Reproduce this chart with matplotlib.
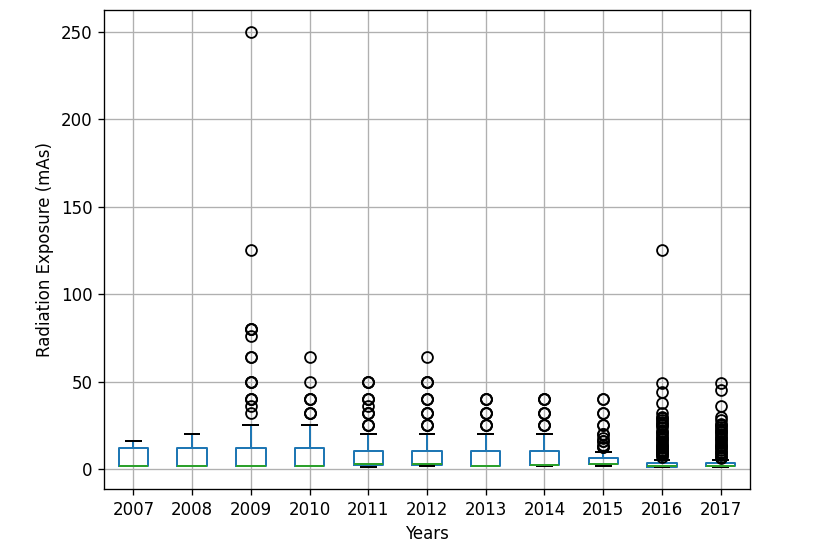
import matplotlib
matplotlib.use("Agg")
import matplotlib.pyplot as plt

years = ["2007", "2008", "2009", "2010", "2011", "2012", "2013", "2014", "2015", "2016", "2017"]
q1 = [2, 2, 2, 2, 2.5, 2.5, 2, 2.5, 3, 1.25, 1.5]
medians = [2, 2, 2, 2, 3, 3, 2, 2.5, 3, 2, 2]
q3 = [12, 12, 12, 12, 10.5, 10.5, 10.5, 10.5, 6.3, 3.2, 3.2]
whislo = [2, 2, 2, 2, 1.25, 2, 2, 2, 2, 1, 1.25]
whishi = [16, 20, 25, 25, 20, 20, 20, 20, 10, 5, 5]
fliers = [
    [],
    [],
    [32, 36, 40, 40, 40, 50, 50, 50, 64, 64, 76, 80, 80, 80, 125, 250],
    [32, 32, 32, 40, 40, 40, 50, 64],
    [25, 25, 25, 32, 32, 32, 36, 40, 40, 40, 50, 50, 50],
    [25, 25, 25, 32, 32, 32, 40, 40, 40, 50, 50, 50, 64],
    [25, 25, 25, 32, 32, 32, 40, 40, 40],
    [25, 25, 25, 32, 32, 32, 40, 40, 40],
    [12.5, 12.5, 14, 16, 16, 18, 20, 20, 25, 25, 32, 32, 40, 40],
    [7, 8, 8.5, 9, 10, 10.5, 11, 12, 12.5, 13, 14, 15, 16, 17, 18, 19, 20, 21,
     22, 24, 25, 26, 27, 28, 29, 30, 32, 38, 44, 49, 125],
    [6.3, 7, 8, 9, 10, 11, 12, 12.5, 13, 14, 15, 16, 17, 18, 19, 20, 21, 22,
     23, 24, 25, 26, 28, 30, 36, 45, 49],
]

stats = []
for i, y in enumerate(years):
    stats.append(dict(label=y, q1=q1[i], med=medians[i], q3=q3[i],
                      whislo=whislo[i], whishi=whishi[i], fliers=fliers[i]))

fig = plt.figure(figsize=(830 / 120, 557 / 120), dpi=120)
ax = fig.add_axes([104 / 830, 1 - 489 / 557, (750 - 104) / 830, (489 - 10) / 557])

ax.bxp(stats, widths=0.5,
       boxprops=dict(color="#1f77b4", linewidth=1.2),
       whiskerprops=dict(color="#1f77b4", linewidth=1.2),
       medianprops=dict(color="#2ca02c", linewidth=1.2),
       capprops=dict(color="black", linewidth=1.2),
       flierprops=dict(marker="o", markerfacecolor="none", markeredgecolor="black",
                       markersize=6.5, markeredgewidth=1.1))

ax.grid(True)
ax.set_axisbelow(True)
ax.set_xlabel("Years")
ax.set_ylabel("Radiation Exposure (mAs)")
ax.set_ylim(-11.4, 262.4)
ax.set_xlim(0.5, 11.5)

fig.savefig("out.png", dpi=120)
